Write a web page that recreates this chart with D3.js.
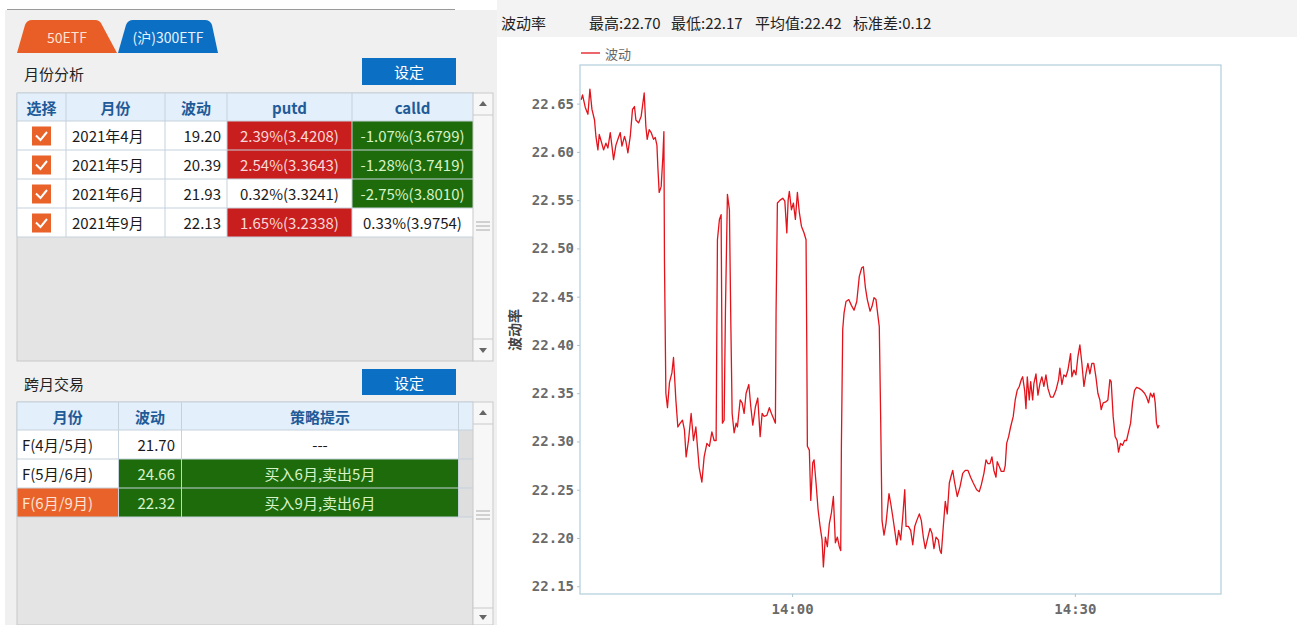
<!DOCTYPE html>
<html>
<head>
<meta charset="utf-8">
<script src="https://cdn.jsdelivr.net/npm/d3@7"></script>
<style>
  body { margin: 0; background: #ffffff; }
  svg { display: block; font-family: "Noto Sans CJK SC", "Noto Sans", sans-serif; }
</style>
</head>
<body>
<svg id="root" width="1297" height="625"></svg>
<script>
// ---------------- DATA ----------------
// Left panel: month analysis table
const monthNames = ["2021年4月", "2021年5月", "2021年6月", "2021年9月"];
const monthVol   = ["19.20", "20.39", "21.93", "22.13"];
const putdPct    = [2.39, 2.54, 0.32, 1.65];
const putdPrice  = ["3.4208", "3.3643", "3.3241", "3.2338"];
const calldPct   = [-1.07, -1.28, -2.75, 0.33];
const calldPrice = ["3.6799", "3.7419", "3.8010", "3.9754"];
const monthHeaders = ["选择", "月份", "波动", "putd", "calld"];

// Left panel: spread table
const spreadNames = ["F(4月/5月)", "F(5月/6月)", "F(6月/9月)"];
const spreadVol   = [21.70, 24.66, 22.32];
const spreadTips  = ["---", "买入6月,卖出5月", "买入9月,卖出6月"];
const spreadHeaders = ["月份", "波动", "策略提示", ""];
const selectedSpread = 2;

const tabLabels = ["50ETF", "(沪)300ETF"];

// Chart stats
const statLabels = ["最高", "最低", "平均值", "标准差"];
const statValues = ["22.70", "22.17", "22.42", "0.12"];

// Chart series: time in minutes after 13:00, volatility value
const times = [
 37.63,37.77,38.06,38.34,38.55,38.77,39.04,39.19,39.40,39.54,39.75,40.00,40.25,40.46,40.71,
 40.89,41.06,41.31,41.52,41.77,41.95,42.22,42.37,42.58,42.83,43.07,43.28,43.43,43.71,43.99,
 44.31,44.49,44.63,44.84,45.05,45.30,45.48,45.66,45.76,45.90,46.11,46.29,46.40,46.46,46.61,
 46.78,46.99,47.25,47.42,47.67,47.88,48.13,48.37,48.58,48.76,49.01,49.29,49.54,49.79,50.14,
 50.43,50.67,50.96,51.23,51.49,51.73,51.94,52.08,52.29,52.47,52.61,52.79,52.93,53.14,53.35,
 53.50,53.64,53.85,54.06,54.20,54.49,54.70,54.91,55.12,55.41,55.62,55.83,56.11,56.36,56.61,
 56.82,57.03,57.32,57.59,57.81,58.02,58.23,58.30,58.44,58.73,59.01,59.23,59.44,59.58,59.71,
 59.93,60.14,60.35,60.56,60.77,60.99,61.27,61.48,61.56,61.62,61.83,61.98,62.19,62.33,62.54,
 62.76,62.97,63.18,63.32,63.53,63.74,63.95,64.17,64.38,64.59,64.80,65.01,65.16,65.23,65.37,
 65.51,65.72,66.01,66.29,66.57,66.86,67.13,67.39,67.56,67.77,67.98,68.27,68.48,68.69,68.90,
 69.12,69.25,69.40,69.54,69.75,69.96,
 70.28,70.46,70.68,70.89,71.10,71.31,71.52,71.74,71.95,72.09,72.33,72.58,72.80,73.01,73.22,
 73.50,73.71,73.92,74.13,74.34,74.63,74.84,75.05,75.27,75.51,75.69,75.83,76.04,76.25,76.46,
 76.68,76.89,77.04,77.25,77.52,77.81,78.10,78.37,78.66,78.94,79.22,79.58,79.86,80.07,80.35,
 80.57,80.78,80.99,81.20,81.41,81.63,81.76,81.98,82.19,82.47,82.61,82.76,82.97,
 83.18,83.46,83.67,83.88,84.10,84.31,84.46,84.67,84.81,84.95,85.16,85.31,85.52,85.65,85.87,
 86.08,86.29,86.50,86.71,86.93,87.14,87.42,87.70,87.99,88.27,88.41,88.62,88.83,89.05,89.26,
 89.54,89.68,89.90,90.11,90.32,90.53,90.74,90.96,91.17,91.38,91.59,91.80,92.01,92.23,92.44,
 92.65,92.79,93.00,93.29,93.50,93.71,93.85,94.06,94.27,94.48,94.63,94.84,95.06,95.27,95.48,
 95.69,95.91,96.12,96.33,96.54,96.82,97.10,97.39,97.60,97.81,98.02,98.23,98.38,98.52,98.66,
 98.80,98.94
];
const vols = [
 22.654,22.659,22.646,22.639,22.665,22.644,22.633,22.616,22.602,22.618,22.611,22.602,22.609,22.604,22.620,
 22.606,22.592,22.607,22.613,22.620,22.606,22.616,22.611,22.599,22.616,22.644,22.647,22.633,22.630,22.637,
 22.661,22.626,22.613,22.623,22.620,22.613,22.615,22.607,22.584,22.558,22.564,22.595,22.621,22.488,22.350,
 22.335,22.361,22.371,22.387,22.343,22.315,22.319,22.322,22.312,22.284,22.301,22.329,22.301,22.315,22.273,
 22.258,22.284,22.298,22.295,22.310,22.301,22.301,22.509,22.530,22.535,22.319,22.322,22.436,22.556,22.540,
 22.423,22.329,22.309,22.319,22.315,22.343,22.340,22.329,22.350,22.359,22.336,22.317,22.336,22.345,22.305,
 22.329,22.326,22.327,22.335,22.329,22.324,22.319,22.433,22.547,22.550,22.552,22.549,22.516,22.550,22.559,
 22.540,22.547,22.530,22.558,22.537,22.523,22.516,22.509,22.398,22.295,22.291,22.239,22.278,22.281,22.257,
 22.229,22.212,22.198,22.170,22.201,22.191,22.215,22.226,22.243,22.195,22.201,22.191,22.187,22.295,22.416,
 22.433,22.445,22.447,22.441,22.436,22.445,22.471,22.480,22.481,22.460,22.447,22.435,22.440,22.449,22.447,
 22.429,22.419,22.322,22.218,22.203,22.215,
 22.246,22.236,22.222,22.208,22.193,22.208,22.198,22.222,22.250,22.212,22.212,22.208,22.193,22.212,22.218,
 22.225,22.218,22.201,22.189,22.198,22.210,22.205,22.189,22.201,22.198,22.187,22.184,22.212,22.238,22.225,
 22.257,22.265,22.270,22.257,22.243,22.253,22.267,22.270,22.270,22.263,22.257,22.250,22.248,22.255,22.267,
 22.281,22.277,22.277,22.284,22.270,22.263,22.279,22.274,22.269,22.269,22.275,22.298,22.305,
 22.315,22.326,22.343,22.353,22.357,22.364,22.367,22.353,22.334,22.367,22.343,22.362,22.343,22.360,22.370,
 22.348,22.360,22.367,22.357,22.369,22.355,22.346,22.346,22.353,22.364,22.376,22.359,22.369,22.367,22.374,
 22.391,22.367,22.374,22.369,22.388,22.400,22.381,22.357,22.370,22.381,22.370,22.381,22.381,22.367,22.350,
 22.343,22.333,22.340,22.341,22.343,22.364,22.362,22.326,22.305,22.301,22.289,22.298,22.296,22.301,22.301,
 22.310,22.319,22.340,22.353,22.356,22.355,22.353,22.350,22.346,22.340,22.350,22.346,22.350,22.340,22.319,
 22.314,22.317
];
const yTicks = [22.15, 22.20, 22.25, 22.30, 22.35, 22.40, 22.45, 22.50, 22.55, 22.60, 22.65];
const xTickMinutes = [60, 90];      // 14:00, 14:30
const xDomainMinutes = [37.5, 105.5];
const yDomain = [22.142, 22.690];
const seriesName = "波动";
const yTitle = "波动率";

// ---------------- DRAW ----------------
const svg = d3.select("#root");
const CJK = '"Noto Sans CJK SC", "Noto Sans", sans-serif';
const MONO = '"DejaVu Sans Mono", monospace';
const FS = 15;

// backgrounds
svg.append("rect").attr("x", 5).attr("y", 10).attr("width", 492).attr("height", 615).attr("fill", "#f0f0f0");
svg.append("line").attr("x1", 7).attr("x2", 455).attr("y1", 9.5).attr("y2", 9.5).attr("stroke", "#9a9a9a");
svg.append("rect").attr("x", 497).attr("y", 0).attr("width", 800).attr("height", 37).attr("fill", "#f3f3f3");

// tabs
const tabColors = ["#e85e26", "#0b6fc3"];
const tabText = ["#fde3d3", "#e6f2ff"];
const tabGeom = [[17, 27, 100, 117], [118, 128, 210, 218]];
tabLabels.forEach((lab, i) => {
  const [a, b, c, d] = tabGeom[i];
  const p = d3.path();
  p.moveTo(a, 53); p.lineTo(b - 2, 25); p.quadraticCurveTo(b, 20, b + 5, 20);
  p.lineTo(c - 5, 20); p.quadraticCurveTo(c, 20, c + 2, 25); p.lineTo(d, 53); p.closePath();
  svg.append("path").attr("d", p.toString()).attr("fill", tabColors[i]);
  svg.append("text").attr("x", (a + d) / 2).attr("y", 37).attr("text-anchor", "middle")
    .attr("dominant-baseline", "central").attr("font-size", 14).attr("fill", tabText[i])
    .attr("font-family", CJK).text(lab);
});

function sectionLabel(t, y) {
  svg.append("text").attr("x", 24).attr("y", y).attr("dominant-baseline", "central")
    .attr("font-size", FS).attr("fill", "#222").attr("font-family", CJK).text(t);
}
function button(y, h) {
  svg.append("rect").attr("x", 362).attr("y", y).attr("width", 94).attr("height", h).attr("fill", "#0b6fc3");
  svg.append("text").attr("x", 409).attr("y", y + h / 2).attr("text-anchor", "middle")
    .attr("dominant-baseline", "central").attr("font-size", FS).attr("fill", "#ffffff")
    .attr("font-family", CJK).text("设定");
}
function scrollbar(y0, y1, gripY) {
  svg.append("rect").attr("x", 473).attr("y", y0).attr("width", 20).attr("height", y1 - y0)
    .attr("fill", "#f7f7f7").attr("stroke", "#c9c9c9");
  svg.append("line").attr("x1", 473).attr("x2", 493).attr("y1", y0 + 22).attr("y2", y0 + 22).attr("stroke", "#c9c9c9");
  svg.append("path").attr("d", `M${479},${y0 + 13}L${483},${y0 + 8}L${487},${y0 + 13}Z`).attr("fill", "#666");
  if (y1 < 620) {
    svg.append("line").attr("x1", 473).attr("x2", 493).attr("y1", y1 - 22).attr("y2", y1 - 22).attr("stroke", "#c9c9c9");
    svg.append("path").attr("d", `M${479},${y1 - 13}L${483},${y1 - 8}L${487},${y1 - 13}Z`).attr("fill", "#666");
  } else {
    svg.append("line").attr("x1", 473).attr("x2", 493).attr("y1", 608).attr("y2", 608).attr("stroke", "#c9c9c9");
    svg.append("path").attr("d", `M479,615L483,620L487,615Z`).attr("fill", "#666");
  }
  [0, 4, 8].forEach(dy => svg.append("line").attr("x1", 476).attr("x2", 490)
    .attr("y1", gripY + dy).attr("y2", gripY + dy).attr("stroke", "#aaaaaa"));
}

// ---- Month analysis table ----
sectionLabel("月份分析", 73);
button(58, 27);
const t1 = { top: 93, head: 28, row: 29, bottom: 361 };
const cols1 = [[17, 66], [66, 165], [165, 227], [227, 352], [352, 473]];
svg.append("rect").attr("x", 17).attr("y", t1.top).attr("width", 456).attr("height", t1.bottom - t1.top)
  .attr("fill", "#e4e4e4").attr("stroke", "#c8c8c8");
svg.append("rect").attr("x", 17).attr("y", t1.top).attr("width", 456).attr("height", t1.head).attr("fill", "#e3effa");
svg.selectAll("text.h").data(monthHeaders).join("text")
  .attr("x", (d, i) => (cols1[i][0] + cols1[i][1]) / 2).attr("y", t1.top + t1.head / 2)
  .attr("text-anchor", "middle").attr("dominant-baseline", "central")
  .attr("font-size", FS).attr("font-weight", "bold").attr("fill", "#1f5b98").attr("font-family", CJK).text(d => d);

const rows1 = monthNames.map((m, i) => ({
  m, vol: monthVol[i],
  put: `${putdPct[i].toFixed(2)}%(${putdPrice[i]})`, putHot: putdPct[i] > 1,
  call: `${calldPct[i].toFixed(2)}%(${calldPrice[i]})`, callHot: calldPct[i] < -1
}));
rows1.forEach((r, i) => {
  const y0 = t1.top + t1.head + i * t1.row;
  const cy = y0 + t1.row / 2;
  svg.append("rect").attr("x", 17).attr("y", y0).attr("width", 456).attr("height", t1.row).attr("fill", "#ffffff");
  if (r.putHot) svg.append("rect").attr("x", 227).attr("y", y0).attr("width", 125).attr("height", t1.row).attr("fill", "#c81f1e");
  if (r.callHot) svg.append("rect").attr("x", 352).attr("y", y0).attr("width", 121).attr("height", t1.row).attr("fill", "#1e6b0b");
  // checkbox
  svg.append("rect").attr("x", 32).attr("y", cy - 9).attr("width", 19).attr("height", 19).attr("fill", "#e8622a");
  svg.append("path").attr("d", `M36,${cy}L40.5,${cy + 4.5}L47,${cy - 3.5}`).attr("fill", "none")
    .attr("stroke", "#ffffff").attr("stroke-width", 2);
  const txt = (x, anchor, s, fill) => svg.append("text").attr("x", x).attr("y", cy).attr("text-anchor", anchor)
    .attr("dominant-baseline", "central").attr("font-size", FS).attr("fill", fill).attr("font-family", CJK).text(s);
  txt(72, "start", r.m, "#1a1a1a");
  txt(221, "end", r.vol, "#1a1a1a");
  txt(289.5, "middle", r.put, r.putHot ? "#f8d8d8" : "#1a1a1a");
  txt(412.5, "middle", r.call, r.callHot ? "#d6f3c8" : "#1a1a1a");
});
// grid lines table 1
const grid1Bottom = t1.top + t1.head + rows1.length * t1.row;
cols1.forEach(c => svg.append("line").attr("x1", c[0]).attr("x2", c[0]).attr("y1", t1.top).attr("y2", grid1Bottom)
  .attr("stroke", "#c5d2dc"));
d3.range(rows1.length + 2).forEach(k => {
  const yy = t1.top + (k === 0 ? 0 : t1.head + (k - 1) * t1.row);
  svg.append("line").attr("x1", 17).attr("x2", 473).attr("y1", yy).attr("y2", yy).attr("stroke", "#c5d2dc");
});
scrollbar(t1.top, t1.bottom, 222);

// ---- Spread table ----
sectionLabel("跨月交易", 383);
button(369, 26);
const t2 = { top: 402, head: 28, row: 29 };
const cols2 = [[17, 118.5], [118.5, 181.5], [181.5, 458.5], [458.5, 473]];
svg.append("rect").attr("x", 17).attr("y", t2.top).attr("width", 456).attr("height", 625 - t2.top)
  .attr("fill", "#e4e4e4").attr("stroke", "#c8c8c8");
svg.append("rect").attr("x", 17).attr("y", t2.top).attr("width", 456).attr("height", t2.head).attr("fill", "#e3effa");
svg.selectAll("text.h2").data(spreadHeaders).join("text")
  .attr("x", (d, i) => (cols2[i][0] + cols2[i][1]) / 2).attr("y", t2.top + t2.head / 2)
  .attr("text-anchor", "middle").attr("dominant-baseline", "central")
  .attr("font-size", FS).attr("font-weight", "bold").attr("fill", "#1f5b98").attr("font-family", CJK).text(d => d);
spreadNames.forEach((n, i) => {
  const y0 = t2.top + t2.head + i * t2.row;
  const cy = y0 + t2.row / 2;
  const hot = spreadVol[i] > 22;
  const sel = i === selectedSpread;
  svg.append("rect").attr("x", 17).attr("y", y0).attr("width", 441.5).attr("height", t2.row).attr("fill", "#ffffff");
  svg.append("rect").attr("x", 458.5).attr("y", y0).attr("width", 14.5).attr("height", t2.row).attr("fill", "#dedede");
  if (sel) svg.append("rect").attr("x", 17).attr("y", y0).attr("width", 101.5).attr("height", t2.row).attr("fill", "#e8622a");
  if (hot) svg.append("rect").attr("x", 118.5).attr("y", y0).attr("width", 340).attr("height", t2.row).attr("fill", "#1e6b0b");
  const txt = (x, anchor, s, fill) => svg.append("text").attr("x", x).attr("y", cy).attr("text-anchor", anchor)
    .attr("dominant-baseline", "central").attr("font-size", FS).attr("fill", fill).attr("font-family", CJK).text(s);
  txt(22, "start", n, sel ? "#fde3d3" : "#1a1a1a");
  txt(175, "end", spreadVol[i].toFixed(2), hot ? "#d6f3c8" : "#1a1a1a");
  txt(320, "middle", spreadTips[i], hot ? "#d6f3c8" : "#1a1a1a");
});
const grid2Bottom = t2.top + t2.head + spreadNames.length * t2.row;
cols2.forEach(c => svg.append("line").attr("x1", c[0]).attr("x2", c[0]).attr("y1", t2.top).attr("y2", grid2Bottom)
  .attr("stroke", "#c5d2dc"));
d3.range(spreadNames.length + 2).forEach(k => {
  const yy = t2.top + (k === 0 ? 0 : t2.head + (k - 1) * t2.row);
  svg.append("line").attr("x1", 17).attr("x2", 473).attr("y1", yy).attr("y2", yy).attr("stroke", "#c5d2dc");
});
scrollbar(t2.top, 625, 511);

// ---------------- CHART ----------------
const base = new Date(2021, 3, 1, 13, 0, 0);
const toDate = m => new Date(base.getTime() + m * 60000);
const data = d3.zip(times, vols).map(([t, v]) => ({ t: toDate(t), v }));

const plot = { l: 580, r: 1221, t: 65, b: 594 };
const x = d3.scaleTime().domain(xDomainMinutes.map(toDate)).range([plot.l, plot.r]);
const y = d3.scaleLinear().domain(yDomain).range([plot.b, plot.t]);

// title row
svg.append("text").attr("x", 501).attr("y", 22).attr("dominant-baseline", "central")
  .attr("font-size", FS).attr("fill", "#222").attr("font-family", CJK).text(yTitle);
const statX = [589, 671, 755, 853];
svg.selectAll("text.stat").data(statLabels).join("text")
  .attr("x", (d, i) => statX[i]).attr("y", 22).attr("dominant-baseline", "central")
  .attr("font-size", FS).attr("fill", "#222").attr("font-family", CJK)
  .text((d, i) => `${d}:${statValues[i]}`);

// plot frame
svg.append("rect").attr("x", plot.l).attr("y", plot.t).attr("width", plot.r - plot.l).attr("height", plot.b - plot.t)
  .attr("fill", "#ffffff").attr("stroke", "#b3cedd").attr("stroke-width", 1.2);

// axes
const yAxis = svg.append("g").attr("transform", `translate(${plot.l},0)`)
  .call(d3.axisLeft(y).tickValues(yTicks).tickSize(3).tickPadding(3).tickFormat(d3.format(".2f")));
const xAxis = svg.append("g").attr("transform", `translate(0,${plot.b})`)
  .call(d3.axisBottom(x).tickValues(xTickMinutes.map(toDate)).tickSize(3).tickPadding(7)
    .tickFormat(d3.timeFormat("%H:%M")));
[yAxis, xAxis].forEach(a => {
  a.select(".domain").remove();
  a.selectAll(".tick line").attr("stroke", "#a9c6d6");
  a.selectAll(".tick text").attr("fill", "#6a6a6a").attr("font-size", 14).attr("font-weight", "bold")
    .attr("font-family", MONO);
});

// y title
svg.append("text").attr("transform", "translate(514,330) rotate(-90)").attr("text-anchor", "middle")
  .attr("dominant-baseline", "central").attr("font-size", 14).attr("font-weight", "bold")
  .attr("fill", "#444").attr("font-family", CJK).text(yTitle);

// legend
svg.append("line").attr("x1", 581).attr("x2", 600).attr("y1", 53).attr("y2", 53).attr("stroke", "#e3131b").attr("stroke-width", 1.3);
svg.append("text").attr("x", 605).attr("y", 53).attr("dominant-baseline", "central").attr("font-size", 13)
  .attr("fill", "#666").attr("font-family", CJK).text(seriesName);

// line
svg.append("path").datum(data)
  .attr("d", d3.line().x(d => x(d.t)).y(d => y(d.v)))
  .attr("fill", "none").attr("stroke", "#e3131b").attr("stroke-width", 1.3).attr("stroke-linejoin", "round");
</script>
</body>
</html>
